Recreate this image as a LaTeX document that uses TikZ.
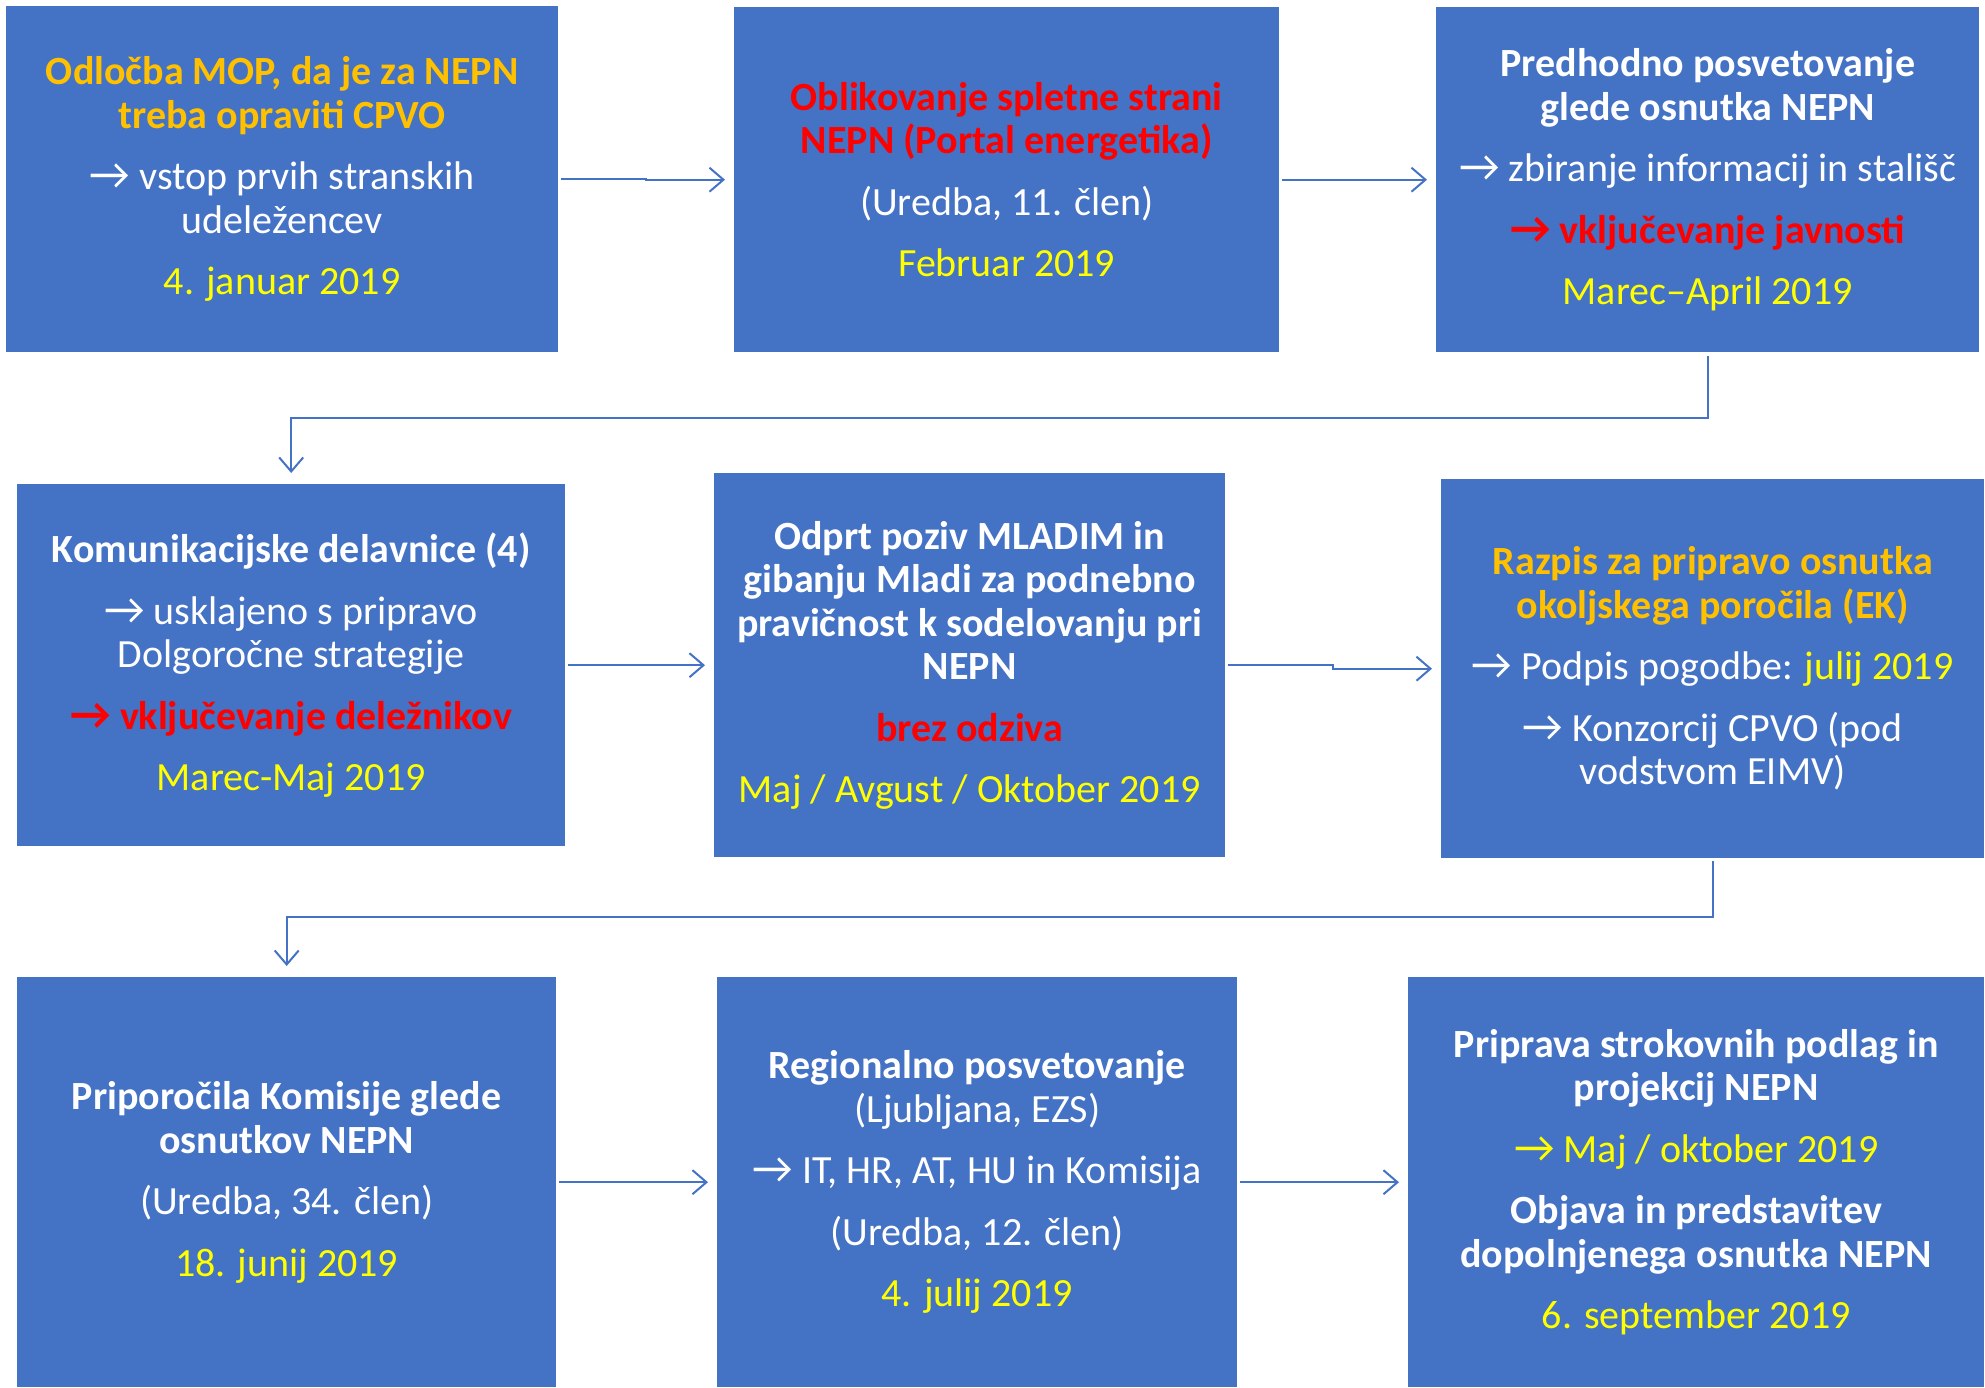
\documentclass[tikz,border=0pt]{standalone}
\usepackage{fontspec}
\setmainfont{Carlito}
\usetikzlibrary{arrows.meta,calc}
\definecolor{boxblue}{HTML}{4472C4}
\definecolor{ttlorange}{HTML}{FFC000}
\definecolor{dateyellow}{HTML}{FFFF00}
\definecolor{alertred}{HTML}{FF0000}
\newcommand\ra{\scalebox{1.12}{→}}
\begin{document}
\begin{tikzpicture}[x=1pt,y=-1pt,
  stagebox/.style={fill=boxblue, draw=none, text=white, align=center, inner sep=0pt,
    anchor=north west, font=\fontsize{40}{43.5}\selectfont},
  flow/.style={draw=boxblue, line width=2pt, line join=miter,
    -{Straight Barb[length=14pt,width=24pt,line width=2pt]}},
]
\useasboundingbox (0,0) rectangle (1985,1387);

% Row 1
\node[stagebox, minimum width=552pt, minimum height=346pt] (b1) at (6,6) {%
  {\color{ttlorange}\bfseries Odločba MOP, da je za NEPN}\\
  {\color{ttlorange}\bfseries treba opraviti CPVO}\\[18pt]
  \ra{} vstop prvih stranskih\\
  udeležencev\\[18pt]
  {\color{dateyellow}4. januar 2019}};

\node[stagebox, minimum width=545pt, minimum height=345pt] (b2) at (734,7) {%
  {\color{alertred}\bfseries Oblikovanje spletne strani}\\
  {\color{alertred}\bfseries NEPN (Portal energetika)}\\[18pt]
  (Uredba, 11. člen)\\[18pt]
  {\color{dateyellow}Februar 2019}};

\node[stagebox, minimum width=543pt, minimum height=345pt] (b3) at (1436,7) {%
  {\bfseries Predhodno posvetovanje}\\
  {\bfseries glede osnutka NEPN}\\[18pt]
  \ra{} zbiranje informacij in stališč\\[18pt]
  {\color{alertred}\bfseries\ra{} vključevanje javnosti}\\[18pt]
  {\color{dateyellow}Marec–April 2019}};

% Row 2
\node[stagebox, minimum width=548pt, minimum height=362pt] (b4) at (17,484) {%
  {\bfseries Komunikacijske delavnice (4)}\\[18pt]
  \ra{} usklajeno s pripravo\\
  Dolgoročne strategije\\[18pt]
  {\color{alertred}\bfseries\ra{} vključevanje deležnikov}\\[18pt]
  {\color{dateyellow}Marec-Maj 2019}};

\node[stagebox, minimum width=511pt, minimum height=384pt] (b5) at (714,473) {%
  {\bfseries Odprt poziv MLADIM in}\\
  {\bfseries gibanju Mladi za podnebno}\\
  {\bfseries pravičnost k sodelovanju pri}\\
  {\bfseries NEPN}\\[18pt]
  {\color{alertred}\bfseries brez odziva}\\[18pt]
  {\color{dateyellow}Maj / Avgust / Oktober 2019}};

\node[stagebox, minimum width=543pt, minimum height=379pt] (b6) at (1441,479) {%
  {\color{ttlorange}\bfseries Razpis za pripravo osnutka}\\
  {\color{ttlorange}\bfseries okoljskega poročila (EK)}\\[18pt]
  \ra{} Podpis pogodbe: {\color{dateyellow}julij 2019}\\[18pt]
  \ra{} Konzorcij CPVO (pod\\
  vodstvom EIMV)};

% Row 3
\node[stagebox, minimum width=539pt, minimum height=410pt] (b7) at (17,977) {%
  {\bfseries Priporočila Komisije glede}\\
  {\bfseries osnutkov NEPN}\\[18pt]
  (Uredba, 34. člen)\\[18pt]
  {\color{dateyellow}18. junij 2019}};

\node[stagebox, minimum width=520pt, minimum height=410pt] (b8) at (717,977) {%
  {\bfseries Regionalno posvetovanje}\\
  (Ljubljana, EZS)\\[18pt]
  \ra{} IT, HR, AT, HU in Komisija\\[18pt]
  (Uredba, 12. člen)\\[18pt]
  {\color{dateyellow}4. julij 2019}};

\node[stagebox, minimum width=576pt, minimum height=410pt] (b9) at (1408,977) {%
  {\bfseries Priprava strokovnih podlag in}\\
  {\bfseries projekcij NEPN}\\[18pt]
  {\color{dateyellow}\ra{} Maj / oktober 2019}\\[18pt]
  {\bfseries Objava in predstavitev}\\
  {\bfseries dopolnjenega osnutka NEPN}\\[18pt]
  {\color{dateyellow}6. september 2019}};

% Connectors
\draw[flow] ([xshift=3pt]b1.east) -- ++(85,0) |- ([xshift=-9pt]b2.west);
\draw[flow] ([xshift=3pt]b2.east) -- ([xshift=-9pt]b2.east -| b3.west);
\draw[flow] ([yshift=-4pt]b3.south) -- ++(0,62) -| ([yshift=11pt]b4.north);
\draw[flow] ([xshift=3pt]b4.east) -- ([xshift=-9pt]b4.east -| b5.west);
\draw[flow] ([xshift=3pt]b5.east) -- ++(105,0) |- ([xshift=-9pt]b6.west);
\draw[flow] ([yshift=-3pt]b6.south) -- ++(0,56) -| ([yshift=11pt]b7.north);
\draw[flow] ([xshift=3pt]b7.east) -- ([xshift=-9pt]b7.east -| b8.west);
\draw[flow] ([xshift=3pt]b8.east) -- ([xshift=-9pt]b8.east -| b9.west);
\end{tikzpicture}
\end{document}
